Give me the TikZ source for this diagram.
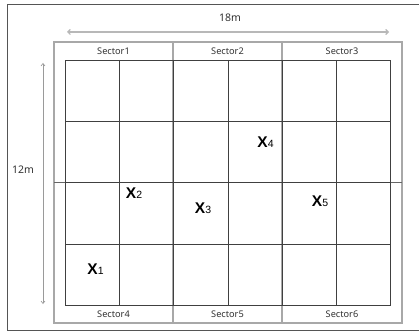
\documentclass[tikz,border=0pt]{standalone}
\usepackage{fontspec}
\setmainfont{Noto Sans}
\newfontfamily\xfont{Liberation Sans}
\usetikzlibrary{arrows.meta}
\definecolor{gridc}{HTML}{404040}
\definecolor{framec}{HTML}{555555}
\definecolor{secc}{HTML}{A8A8A8}
\definecolor{arrc}{HTML}{B8B8B8}
\definecolor{varrc}{HTML}{9A9A9A}
\definecolor{txtc}{HTML}{333333}
\begin{document}
\begin{tikzpicture}[x=1pt,y=-1pt,
  gridline/.style={draw=gridc,line width=0.9pt},
  secline/.style={draw=secc,line width=1.3pt},
  seclabel/.style={font=\fontsize{9.2}{10}\selectfont,text=txtc,inner sep=0pt},
  dimlabel/.style={font=\fontsize{10.5}{12}\selectfont,text=txtc,inner sep=0pt},
  xlabel/.style={font=\xfont\fontsize{15.5}{16}\selectfont,inner sep=0pt},
  hdim/.style={draw=arrc,line width=1.2pt,{Straight Barb[length=2.5pt,width=5pt]}-{Straight Barb[length=2.5pt,width=5pt]}},
  vdim/.style={draw=varrc,line width=0.6pt,{Straight Barb[length=2.5pt,width=4pt]}-{Straight Barb[length=2.5pt,width=4pt]}}]
\useasboundingbox (0,0) rectangle (419,331);
\fill[white] (0,0) rectangle (419,331);
% outer frame (right edge lies beyond the picture)
\draw[draw=framec,line width=1pt] (420,5) -- (7,5) -- (7,330) -- (420,330);
% sector frame and dividers
\draw[secline] (54,42) rectangle (402,323);
\draw[secline] (173,42) -- (173,323);
\draw[secline] (282,42) -- (282,323);
\draw[gridline,draw=gridc!80] (54,182) -- (402,182);
% grid
\draw[gridline] (65,60) rectangle (390,305);
\foreach \gx in {119,173,228,282,336} \draw[gridline] (\gx,60) -- (\gx,305);
\foreach \gy in {121,182,244} \draw[gridline] (65,\gy) -- (390,\gy);
% sector labels
\node[seclabel] (s1) at (113.5,51) {Sector1};
\node[seclabel] (s2) at (227.5,51) {Sector2};
\node[seclabel] (s3) at (342,51) {Sector3};
\node[seclabel] (s4) at (113.5,314) {Sector4};
\node[seclabel] (s5) at (227.5,314) {Sector5};
\node[seclabel] (s6) at (342,314) {Sector6};
% dimensions
\coordinate (hl) at (67,32);
\coordinate (hr) at (389,32);
\draw[hdim] (hl) -- (hr);
\node[dimlabel] (w) at (230,18) {18m};
\coordinate (vt) at (43,63);
\coordinate (vb) at (43,304);
\draw[vdim] (vt) -- (vb);
\node[dimlabel] (h) at (23,170) {12m};
% X labels
\node[xlabel] (x1) at (95.5,269) {\textbf{X}{\fontsize{10.5}{11}\selectfont 1}};
\node[xlabel] (x2) at (134,193) {\textbf{X}{\fontsize{10.5}{11}\selectfont 2}};
\node[xlabel] (x3) at (203,208.5) {\textbf{X}{\fontsize{10.5}{11}\selectfont 3}};
\node[xlabel] (x4) at (265.5,142.5) {\textbf{X}{\fontsize{10.5}{11}\selectfont 4}};
\node[xlabel] (x5) at (320,201.5) {\textbf{X}{\fontsize{10.5}{11}\selectfont 5}};
\end{tikzpicture}
\end{document}
